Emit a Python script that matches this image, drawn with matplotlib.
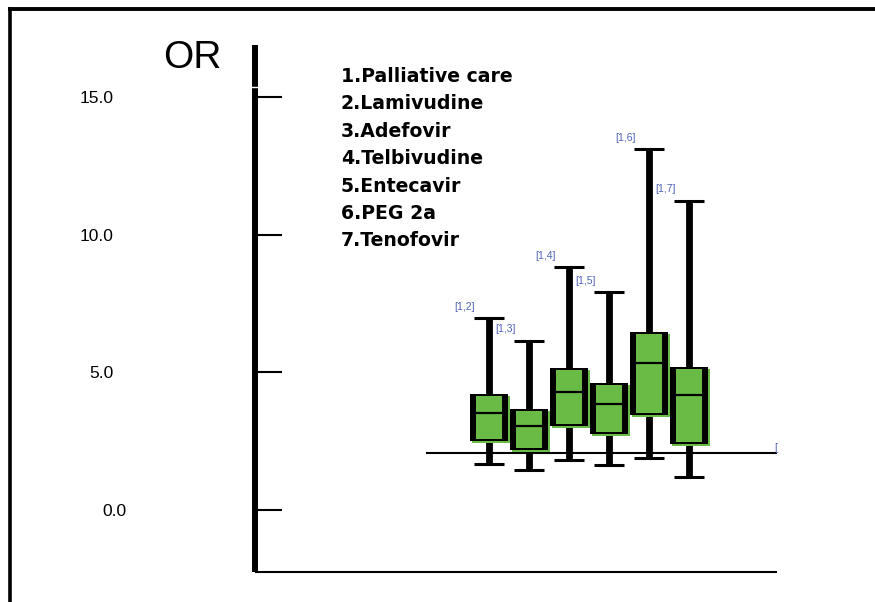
import matplotlib
matplotlib.use("Agg")
import matplotlib.pyplot as plt
from matplotlib.patches import Rectangle
from matplotlib.lines import Line2D
from matplotlib.transforms import ScaledTranslation

# data
groups = ['[1,2]', '[1,3]', '[1,4]', '[1,5]', '[1,6]', '[1,7]']
positions = [2, 3, 4, 5, 6, 7]
whisker_hi = [6.97, 6.14, 8.81, 7.91, 13.11, 11.24]
q3 = [4.21, 3.66, 5.17, 4.62, 6.48, 5.18]
median = [3.53, 3.05, 4.30, 3.84, 5.33, 4.19]
q1 = [2.52, 2.18, 3.05, 2.76, 3.45, 2.39]
whisker_lo = [1.66, 1.45, 1.82, 1.63, 1.88, 1.21]
ref_value = 2.07
treatments = ['1.Palliative care', '2.Lamivudine', '3.Adefovir', '4.Telbivudine',
              '5.Entecavir', '6.PEG 2a', '7.Tenofovir']
yticks = [0, 5, 10, 15]

green = '#6ABB46'
blue = '#4F62B5'
W, H = 875, 602

fig = plt.figure(figsize=(W / 100, H / 100), dpi=100)
ax = fig.add_axes([255 / W, (H - 572) / H, (777 - 255) / W, (572 - 45) / H])
ax.set_xlim(-3.85, 9.2)
ax.set_ylim(-2.252, 16.89)

for s in ['top', 'right']:
    ax.spines[s].set_visible(False)
ax.spines['left'].set_linewidth(4.3)
ax.spines['left'].set_capstyle('butt')
ax.spines['bottom'].set_linewidth(1.5)
ax.spines['bottom'].set_capstyle('butt')
ax.set_xticks([])
ax.set_yticks(yticks)
ax.set_yticklabels([f'{v:.1f}' for v in yticks], family='Liberation Sans', fontsize=12.5)
ax.tick_params(axis='y', direction='in', length=19.4, width=1.5, pad=102)
# the 0.0 label sits a bit further right in the original
lab0 = ax.get_yticklabels()[0]
lab0.set_transform(lab0.get_transform() + ScaledTranslation(0.13, 0, fig.dpi_scale_trans))

# small break in the axis line near the top
ax.plot([-3.97, -3.73], [15.36, 15.36], color='white', lw=1.0, clip_on=False, zorder=5)

# reference line
ax.plot([0.45, 9.2], [ref_value, ref_value], color='black', lw=1.5, zorder=1)

bw = 0.95
inset_x, inset_y = 0.15, 0.075
for i, x in enumerate(positions):
    # whiskers
    ax.vlines(x, whisker_lo[i], q1[i], color='black', lw=4.9, zorder=2)
    ax.vlines(x, q3[i], whisker_hi[i], color='black', lw=4.9, zorder=2)
    ax.hlines([whisker_lo[i], whisker_hi[i]], x - 0.38, x + 0.38, color='black', lw=2.2, zorder=2)
    # box: green shadow, black frame, green body
    ax.add_patch(Rectangle((x - bw / 2 + 0.06, q1[i] - 0.07), bw, q3[i] - q1[i],
                           facecolor=green, edgecolor='none', zorder=3))
    ax.add_patch(Rectangle((x - bw / 2, q1[i]), bw, q3[i] - q1[i],
                           facecolor='black', edgecolor='none', zorder=4))
    ax.add_patch(Rectangle((x - bw / 2 + inset_x, q1[i] + inset_y), bw - 2 * inset_x,
                           q3[i] - q1[i] - 2 * inset_y,
                           facecolor=green, edgecolor='none', zorder=5))
    ax.hlines(median[i], x - bw / 2, x + bw / 2, color='black', lw=1.6, zorder=6)
    ax.text(x - 0.6, whisker_hi[i] + 0.42, groups[i], color=blue, fontsize=7.5,
            family='Liberation Sans', ha='center', va='center')

ax.text(9.2, ref_value + 0.2, '[', color=blue, fontsize=7.5, family='Liberation Sans',
        ha='right', va='center')

fig.text(163 / W, 1 - 68 / H, 'OR', fontsize=28, family='Liberation Sans', va='baseline')

for k, t in enumerate(treatments):
    fig.text(341 / W, 1 - (82 + 27.4 * k) / H, t, fontsize=13.6, family='DejaVu Sans',
             weight='bold', va='baseline')

# outer frame (top and left only)
fig.add_artist(Line2D([10 / W, 10 / W], [0, 1 - 9 / H], transform=fig.transFigure,
                      color='black', lw=2.6))
fig.add_artist(Line2D([10 / W, 1], [1 - 9 / H, 1 - 9 / H], transform=fig.transFigure,
                      color='black', lw=2.8))

fig.savefig('out.png', dpi=100)
